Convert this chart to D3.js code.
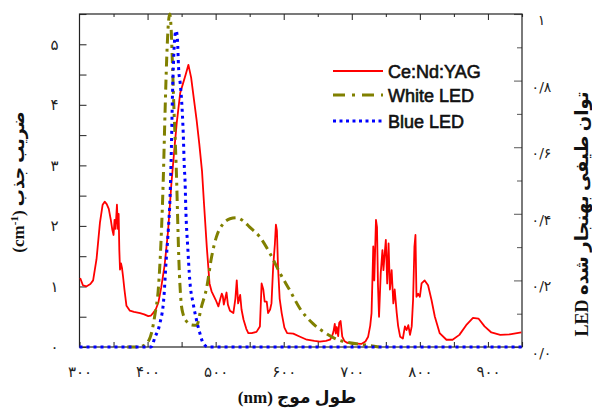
<!DOCTYPE html>
<html><head><meta charset="utf-8">
<script src="https://cdn.jsdelivr.net/npm/d3@7/dist/d3.min.js"></script>
<style>body{margin:0;background:#fff}svg{display:block}</style>
</head><body>
<svg id="chart" width="592" height="410"></svg>
<script>
// ---------------- data ----------------
const seriesNames = ["Ce:Nd:YAG", "White LED", "Blue LED"];

const yagWavelength = [301,305,310,316,320,325,330,334,337,340,343,346,348,350,351.5,353,355,356.5,357.5,358.5,359.5,361,362.5,364,366,369,374,380,389,395,401,405,408,412,416,420,425,430,435,440,443,448,452,456,460,464,468,472,476,480,483,487,491,494,497,500,504,507,509,510.5,512,514,516,518,521,526,529,531,533,536,538,541,545,548,553,560,565,567.5,570,572,575,577,580,582,584.5,587,588.5,590,591.5,594,597,601,605,614,624,634,645,653,662,668,671,673,675,676.5,678,680,681.5,683.5,686,689,693,700,714,720,724,727,729,730.5,731.5,733,734,735.5,737,738.5,740,742.5,745,746.5,748,750,752,754,756,758.5,761,763,766,768,771,775,778,780.5,783,785.5,788,790,792,793.5,795,797.5,800,802.5,807,812,817,822,829,839,848,858,868,878,886,895,905,918,932,949];
const yagAbsorption = [1.14,1.02,1.0,1.04,1.1,1.45,2.05,2.35,2.4,2.36,2.28,2.1,1.95,1.85,2.1,1.95,2.35,1.95,2.2,1.6,1.28,1.38,1.3,1.16,0.95,0.68,0.6,0.58,0.56,0.54,0.51,0.52,0.56,0.62,0.74,0.98,1.35,1.9,2.7,3.35,3.72,4.2,4.35,4.5,4.66,4.45,4.1,3.75,3.35,2.9,2.35,1.65,1.05,0.92,0.85,0.78,0.67,0.8,0.88,0.84,0.7,0.8,0.9,0.7,0.6,0.56,0.8,1.1,0.72,0.86,0.62,0.45,0.3,0.23,0.23,0.25,0.34,1.05,0.95,0.75,0.75,0.56,0.62,0.72,1.33,1.7,2.02,1.92,1.35,0.8,0.56,0.32,0.23,0.22,0.17,0.12,0.1,0.09,0.1,0.12,0.18,0.25,0.38,0.22,0.33,0.18,0.4,0.43,0.17,0.1,0.07,0.06,0.05,0.09,0.17,0.35,0.56,1.2,1.66,1.1,1.5,2.1,1.98,1.0,0.5,1.22,1.6,1.27,1.5,1.77,1.05,1.71,0.95,1.27,0.72,0.95,0.56,0.35,0.17,0.14,0.34,0.28,0.36,0.2,0.34,0.78,1.66,1.85,0.83,0.88,0.83,1.05,1.1,1.02,0.78,0.5,0.23,0.12,0.12,0.2,0.36,0.48,0.47,0.34,0.24,0.2,0.21,0.24];

const whiteWavelength = [370,385,395,404,411,416,420,423,425.6,428,430.5,432.5,434.5,437,439,441,442.7,444,446,449,452,458,465,472,479,487,494,501,511,521,531,541,550,565,580,595,609,624,643,663,678,697,717,740];
const whitePower = [0,0,0.005,0.03,0.1,0.18,0.33,0.5,0.7,0.86,0.97,1.0,0.96,0.82,0.7,0.6,0.5,0.4,0.26,0.14,0.1,0.075,0.066,0.065,0.12,0.18,0.27,0.33,0.37,0.385,0.388,0.378,0.36,0.33,0.28,0.22,0.17,0.115,0.07,0.04,0.023,0.013,0.007,0];

const blueWavelength = [300,405,411,418,424,427,430.4,433,435,436.5,438,440,442,444,445.5,448,450,452.4,454,455,456.4,459,462,467,472,477,482,489,950];
const bluePower = [0,0,0.03,0.07,0.15,0.25,0.35,0.45,0.6,0.75,0.85,0.93,0.95,0.92,0.84,0.79,0.74,0.64,0.54,0.5,0.4,0.3,0.2,0.13,0.08,0.04,0.01,0,0];

const xTickValues = [300,400,500,600,700,800,900];
const xTickLabels = ["۳۰۰","۴۰۰","۵۰۰","۶۰۰","۷۰۰","۸۰۰","۹۰۰"];
const leftTickValues = [0,1,2,3,4,5];
const leftTickLabels = ["۰","۱","۲","۳","۴","۵"];
const rightTickValues = [0,0.2,0.4,0.6,0.8,1];
const rightTickLabels = ["۰/۰","۰/۲","۰/۴","۰/۶","۰/۸","۱"];

const xTitle = "طول موج (nm)";
const leftTitleMain = "ضریب جذب (cm";
const leftTitleSup = "-1";
const rightTitle = "توان طیفی بهنجار شده LED";

// ---------------- layout ----------------
const L = 79.5, R = 522, T = 14, B = 347;
const svg = d3.select("#chart");
svg.append("rect").attr("width",592).attr("height",410).attr("fill","#fff");

const x = d3.scaleLinear().domain([300,950]).range([L,R]);
const yL = d3.scaleLinear().domain([0,5.5]).range([B,T]);
const yR = d3.scaleLinear().domain([0,1]).range([B,T]);

const numFont = "'DejaVu Sans', sans-serif";
const titleFont = "'Liberation Serif', 'DejaVu Sans', serif";

function styleAxis(g, color){
  g.select(".domain").remove();
  g.selectAll(".tick line").attr("stroke", color).attr("stroke-width",1.1);
  g.selectAll("text").attr("fill","#222").style("font-family",numFont).style("font-size","15px");
}

// bottom axis
const gBottom = svg.append("g").attr("transform",`translate(0,${B})`)
  .call(d3.axisBottom(x).tickValues(d3.range(300,951,50)).tickSize(-5).tickPadding(19)
    .tickFormat(d => { const i = xTickValues.indexOf(d); return i>=0 ? xTickLabels[i] : ""; }));
styleAxis(gBottom, "#333");

// top axis (major / minor)
const gTopMaj = svg.append("g").attr("transform",`translate(0,${T})`)
  .call(d3.axisTop(x).tickValues(d3.range(400,901,100)).tickSize(-6).tickFormat(""));
styleAxis(gTopMaj, "#333");
const gTopMin = svg.append("g").attr("transform",`translate(0,${T})`)
  .call(d3.axisTop(x).tickValues(d3.range(350,951,100)).tickSize(-3).tickFormat(""));
styleAxis(gTopMin, "#333");

// left axis
const gLeft = svg.append("g").attr("transform",`translate(${L},0)`)
  .call(d3.axisLeft(yL).tickValues(d3.range(0,5.51,0.5)).tickSize(-7).tickPadding(21)
    .tickFormat(d => { const i = leftTickValues.indexOf(d); return i>=0 ? leftTickLabels[i] : ""; }));
styleAxis(gLeft, "#333");

// right axis
const gRightMaj = svg.append("g").attr("transform",`translate(${R},0)`)
  .call(d3.axisRight(yR).tickValues(rightTickValues).tickSize(-8).tickPadding(19.5)
    .tickFormat((d,i) => rightTickLabels[i]));
styleAxis(gRightMaj, "#666");
gRightMaj.selectAll("text").attr("text-anchor","middle").attr("y",6).style("font-size","14px");
const gRightMin = svg.append("g").attr("transform",`translate(${R},0)`)
  .call(d3.axisRight(yR).tickValues([0.1,0.3,0.5,0.7,0.9]).tickSize(-5).tickFormat(""));
styleAxis(gRightMin, "#666");

// frame
svg.append("rect").attr("x",L).attr("y",T).attr("width",R-L).attr("height",B-T)
  .attr("fill","none").attr("stroke","#222").attr("stroke-width",1.2);

// ---------------- lines ----------------
const lineYag = d3.line().x(d=>x(d[0])).y(d=>yL(d[1]));
const lineR = d3.line().x(d=>x(d[0])).y(d=>yR(d[1])).curve(d3.curveMonotoneX);

svg.append("path").datum(d3.zip(yagWavelength, yagAbsorption))
  .attr("d", lineYag).attr("fill","none").attr("stroke","#ff0000").attr("stroke-width",1.8)
  .attr("stroke-linejoin","round");
svg.append("path").datum(d3.zip(whiteWavelength, whitePower))
  .attr("d", lineR).attr("fill","none").attr("stroke","#808000").attr("stroke-width",3)
  .attr("stroke-dasharray","10,5,3,5");
svg.append("path").datum(d3.zip(blueWavelength, bluePower))
  .attr("d", lineR).attr("fill","none").attr("stroke","#0000ff").attr("stroke-width",3)
  .attr("stroke-dasharray","3,4");

// ---------------- legend ----------------
const legendStyles = [
  {color:"#ff0000", width:1.8, dash:null, y:71},
  {color:"#808000", width:3, dash:"12,7,3,7", y:95},
  {color:"#0000ff", width:3, dash:"3,3.5", y:121}
];
const lg = svg.append("g");
seriesNames.forEach((name,i) => {
  const s = legendStyles[i];
  lg.append("line").attr("x1",333).attr("x2",383).attr("y1",s.y).attr("y2",s.y)
    .attr("stroke",s.color).attr("stroke-width",s.width).attr("stroke-dasharray",s.dash);
  lg.append("text").attr("x",388).attr("y",s.y+6.5).text(name)
    .style("font-family","'Liberation Sans', Arial, sans-serif").style("font-size","18px")
    .attr("fill","#111").attr("stroke","#111").attr("stroke-width",0.6);
});

// ---------------- titles ----------------
svg.append("text").attr("x",297).attr("y",403).attr("text-anchor","middle")
  .attr("direction","rtl").style("font-family",titleFont).style("font-weight","bold")
  .style("font-size","17px").attr("fill","#111").text(xTitle);

const lt = svg.append("text").attr("transform","translate(24,182) rotate(-90)")
  .attr("text-anchor","middle").attr("direction","rtl")
  .style("font-family",titleFont).style("font-weight","bold").style("font-size","17px").attr("fill","#111");
lt.append("tspan").text(leftTitleMain);
lt.append("tspan").attr("baseline-shift","super").style("font-size","11px").text(leftTitleSup);
lt.append("tspan").text(")");

svg.append("text").attr("transform","translate(588,214) rotate(-90)")
  .attr("text-anchor","middle").attr("direction","rtl")
  .style("font-family",titleFont).style("font-weight","bold").style("font-size","18px")
  .attr("fill","#111").text(rightTitle);
</script>
</body></html>
